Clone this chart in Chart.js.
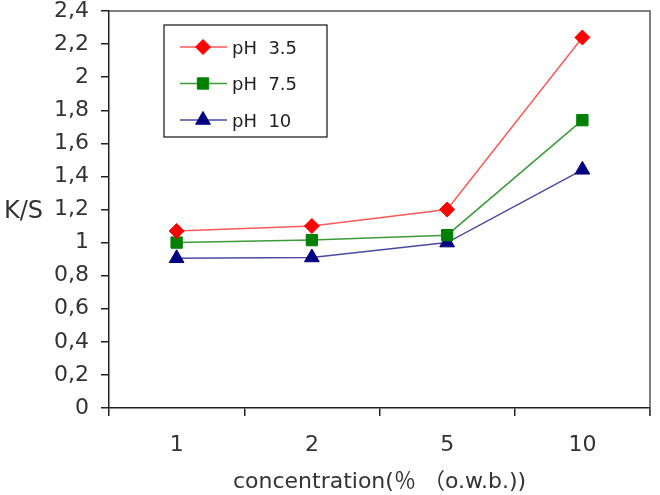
<!DOCTYPE html>
<html>
<head>
<meta charset="utf-8">
<script src="https://cdn.jsdelivr.net/npm/chart.js@4"></script>
<style>
  html, body { margin: 0; padding: 0; background: #fff; }
  #wrap { width: 660px; height: 495px; }
</style>
</head>
<body>
<div id="wrap"><canvas id="chart" width="660" height="495"></canvas></div>
<script>
const categories = ['1', '2', '5', '10'];
const ph35 = [1.07, 1.10, 1.20, 2.24];
const ph75 = [1.00, 1.015, 1.045, 1.74];
const ph10 = [0.905, 0.91, 1.00, 1.44];
const seriesNames = ['pH  3.5', 'pH  7.5', 'pH  10'];

const fontFamily = 'DejaVu Sans, "Noto Sans CJK KR", sans-serif';
const tickFont = { family: fontFamily, size: 22, lineHeight: 1.0 };
const textColor = '#333';

// frame around plot + legend box + K/S label
const extras = {
  id: 'extras',
  afterDraw(chart) {
    const { ctx, chartArea: a, scales } = chart;
    ctx.save();
    // top and right edges of the frame
    ctx.strokeStyle = '#555';
    ctx.lineWidth = 1.5;
    ctx.beginPath();
    ctx.moveTo(a.left, a.top);
    ctx.lineTo(a.right, a.top);
    ctx.lineTo(a.right, a.bottom + 8);
    ctx.stroke();

    // K/S label beside the 1,2 tick
    ctx.fillStyle = textColor;
    ctx.font = '24px ' + fontFamily;
    ctx.textBaseline = 'middle';
    ctx.textAlign = 'left';
    ctx.fillText('K/S', 4, scales.y.getPixelForValue(1.2) + 2);

    // legend
    const bx = a.left + 55, by = a.top + 14, bw = 163, bh = 112;
    ctx.fillStyle = '#fff';
    ctx.fillRect(bx, by, bw, bh);
    ctx.strokeStyle = '#111';
    ctx.lineWidth = 1.2;
    ctx.strokeRect(bx, by, bw, bh);
    ctx.font = '18px ' + fontFamily;
    chart.data.datasets.forEach((ds, i) => {
      const y = by + 22 + i * 36.5;
      ctx.strokeStyle = ds.borderColor;
      ctx.lineWidth = 1.5;
      ctx.beginPath();
      ctx.moveTo(bx + 16, y);
      ctx.lineTo(bx + 63, y);
      ctx.stroke();
      ctx.fillStyle = ds.pointBackgroundColor;
      ctx.strokeStyle = ds.pointBackgroundColor;
      ctx.lineWidth = 1;
      Chart.helpers.drawPoint(ctx, {
        pointStyle: ds.pointStyle,
        radius: ds.pointRadius,
        rotation: 0,
        borderWidth: 1
      }, bx + 39, y);
      ctx.fillStyle = '#222';
      ctx.fillText(ds.label, bx + 68, y + 2);
    });
    ctx.restore();
  }
};

function makeSet(label, data, color, lineColor, style, r) {
  return {
    label, data,
    borderColor: lineColor,
    borderWidth: 1.5,
    pointStyle: style,
    pointRadius: r,
    pointHoverRadius: r,
    pointBackgroundColor: color,
    pointBorderColor: color,
    pointBorderWidth: 1,
    tension: 0
  };
}

new Chart(document.getElementById('chart'), {
  type: 'line',
  data: {
    labels: categories,
    datasets: [
      makeSet(seriesNames[0], ph35, '#ff0000', '#ff5a5a', 'rectRot', 7.5),
      makeSet(seriesNames[1], ph75, '#008000', '#3c9a3c', 'rect', 8),
      makeSet(seriesNames[2], ph10, '#000080', '#4a4aa0', 'triangle', 8.5)
    ]
  },
  options: {
    responsive: false,
    animation: false,
    layout: { padding: { top: 11, right: 10, left: 0, bottom: 0 } },
    plugins: { legend: { display: false }, tooltip: { enabled: false } },
    scales: {
      x: {
        offset: true,
        grid: { offset: true, drawOnChartArea: false, drawTicks: true, tickLength: 8, color: '#222', lineWidth: 1.5 },
        border: { display: true, color: '#222', width: 1.5 },
        ticks: { font: tickFont, color: textColor, padding: 18, maxRotation: 0 },
        title: {
          display: true,
          text: 'concentration(％ （o.w.b.))',
          font: { family: fontFamily, size: 22 },
          color: textColor,
          padding: { top: 2, bottom: 0 }
        },
        afterFit(scale) { scale.height = 87; scale.paddingLeft = 0; scale.paddingRight = 0; }
      },
      y: {
        min: 0, max: 2.4,
        grid: { drawOnChartArea: false, drawTicks: true, tickLength: 8, color: '#222', lineWidth: 1.5 },
        border: { display: true, color: '#222', width: 1.5 },
        ticks: {
          stepSize: 0.2,
          font: tickFont,
          color: textColor,
          padding: 12,
          callback: v => (Math.round(v * 10) / 10).toString().replace('.', ',')
        },
        afterFit(scale) { scale.width = 109; scale.paddingTop = 0; scale.paddingBottom = 0; }
      }
    }
  },
  plugins: [extras]
});
</script>
</body>
</html>
